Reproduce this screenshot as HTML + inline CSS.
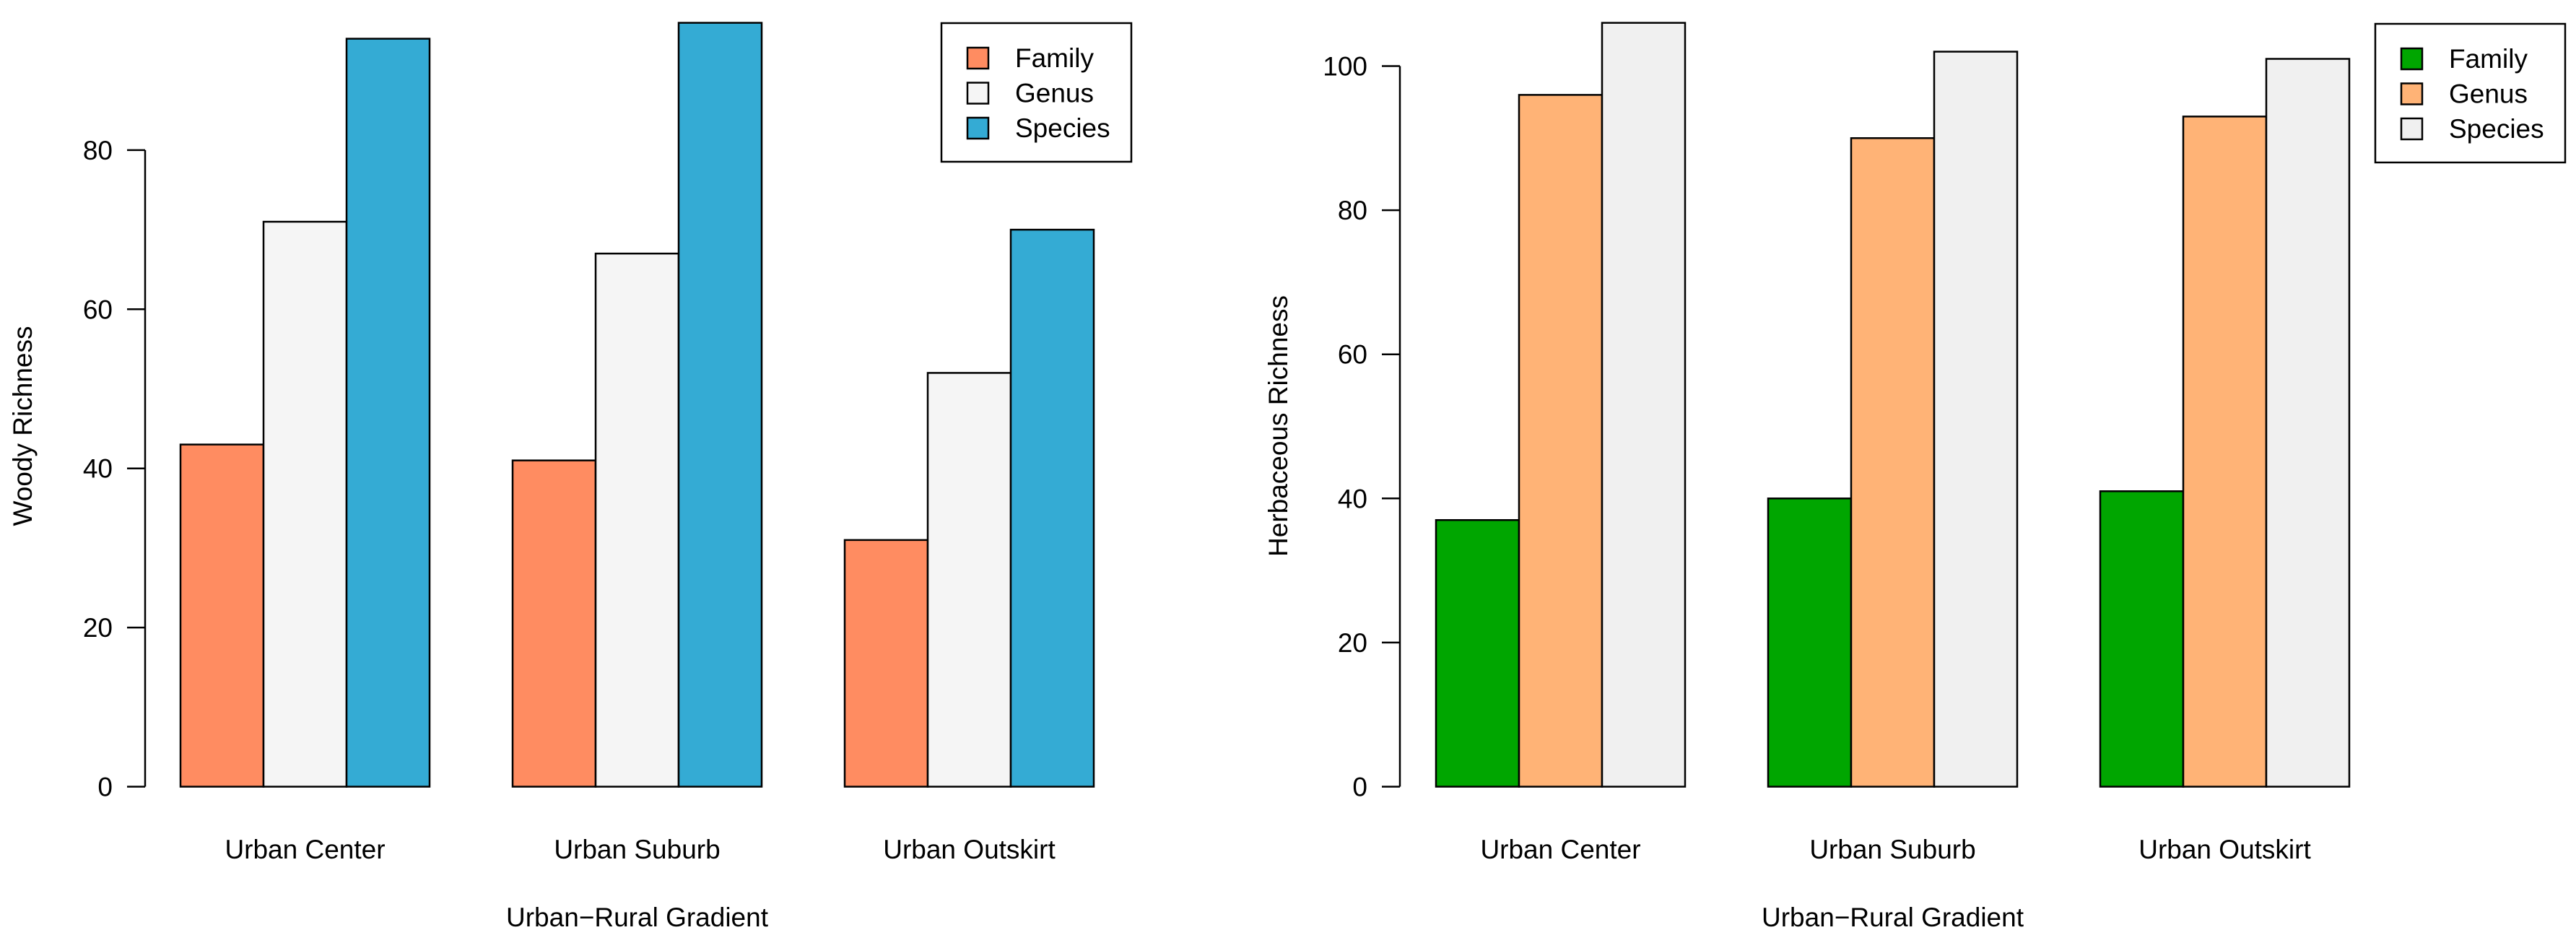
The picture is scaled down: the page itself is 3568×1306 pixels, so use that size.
<!DOCTYPE html>
<html><head><meta charset="utf-8"><style>
html,body{margin:0;padding:0;background:#fff;}
svg{display:block;font-family:"Liberation Sans",Arial,sans-serif;}
</style></head><body>
<svg id="chart" width="3568" height="1306" viewBox="0 0 3568 1306" xmlns="http://www.w3.org/2000/svg"></svg>
<script>
const categories = ["Urban Center", "Urban Suburb", "Urban Outskirt"];
const seriesNames = ["Family", "Genus", "Species"];
const woodyFamily = [43, 41, 31];
const woodyGenus = [71, 67, 52];
const woodySpecies = [94, 96, 70];
const herbFamily = [37, 40, 41];
const herbGenus = [96, 90, 93];
const herbSpecies = [106, 102, 101];
const woodyTicks = [0, 20, 40, 60, 80];
const herbTicks = [0, 20, 40, 60, 80, 100];

const svg = document.getElementById('chart');
const NS = 'http://www.w3.org/2000/svg';
function mk(tag, attrs) { const e = document.createElementNS(NS, tag); for (const k in attrs) e.setAttribute(k, attrs[k]); return e; }

function drawPanel(cfg) {
  const g = mk('g', {});
  
  
  svg.appendChild(g);
  const y = v => 1089.5 - v * cfg.pxPerUnit;
  const bw = 115;
  const groupX = i => cfg.x0 + i * 4 * bw;
  // y axis
  const axis = mk('line', {x1: cfg.axisX, x2: cfg.axisX, y1: y(cfg.ticks[0]), y2: y(cfg.ticks[cfg.ticks.length - 1]), stroke: '#000', 'stroke-width': 2.5});
  
  
  g.appendChild(axis);
  cfg.ticks.forEach(t => {
    const tk = mk('line', {x1: cfg.axisX - 25, x2: cfg.axisX, y1: y(t), y2: y(t), stroke: '#000', 'stroke-width': 2.5});
    
    
    g.appendChild(tk);
    const tl = mk('text', {x: cfg.axisX - 45, y: y(t) + 13, 'text-anchor': 'end', 'font-size': 37});
    
    
    tl.textContent = t;
    g.appendChild(tl);
  });
  const series = cfg.series;
  categories.forEach((c, i) => {
    series.forEach((s, j) => {
      const r = mk('rect', {x: groupX(i) + j * bw, y: y(s[i]), width: bw, height: y(0) - y(s[i]), fill: cfg.colors[j], stroke: '#000', 'stroke-width': 2.5});
      
      
      g.appendChild(r);
    });
    const cl = mk('text', {x: groupX(i) + 1.5 * bw, y: 1189, 'text-anchor': 'middle', 'font-size': 37});
    
    
    cl.textContent = c;
    g.appendChild(cl);
  });
  const xt = mk('text', {x: cfg.x0 + 5.5 * bw, y: 1283, 'text-anchor': 'middle', 'font-size': 37});
  
  
  xt.textContent = 'Urban\u2212Rural Gradient';
  g.appendChild(xt);
  const yt = mk('text', {x: 0, y: 0, 'text-anchor': 'middle', 'font-size': 37, transform: 'translate(' + cfg.ytX + ',590) rotate(-90)'});
  
  
  yt.textContent = cfg.ytitle;
  g.appendChild(yt);
  // legend
  const lg = mk('g', {});
  
  
  g.appendChild(lg);
  const box = mk('rect', {x: cfg.legX, y: cfg.legY, width: 263, height: 192, fill: '#fff', stroke: '#000', 'stroke-width': 2.5});
  
  
  lg.appendChild(box);
  seriesNames.forEach((n, j) => {
    const cy = cfg.legY + 48 + j * 48.5;
    const sw = mk('rect', {x: cfg.legX + 36, y: cy - 14, width: 29, height: 29, fill: cfg.colors[j], stroke: '#000', 'stroke-width': 2.5});
    
    
    lg.appendChild(sw);
    const lt = mk('text', {x: cfg.legX + 102, y: cy + 13, 'font-size': 37});
    
    
    lt.textContent = n;
    lg.appendChild(lt);
  });
}

drawPanel({name: 'woody-panel', x0: 250, axisX: 201, pxPerUnit: 11.02, ticks: woodyTicks,
  series: [woodyFamily, woodyGenus, woodySpecies], colors: ['#FF8C61', '#F5F5F5', '#34ABD4'],
  ytitle: 'Woody Richness', ytX: 44, legX: 1304, legY: 32});
drawPanel({name: 'herbaceous-panel', x0: 1989, axisX: 1939, pxPerUnit: 9.98, ticks: herbTicks,
  series: [herbFamily, herbGenus, herbSpecies], colors: ['#00A600', '#FFB376', '#F0F0F0'],
  ytitle: 'Herbaceous Richness', ytX: 1783, legX: 3290, legY: 33});
</script>
</body></html>
